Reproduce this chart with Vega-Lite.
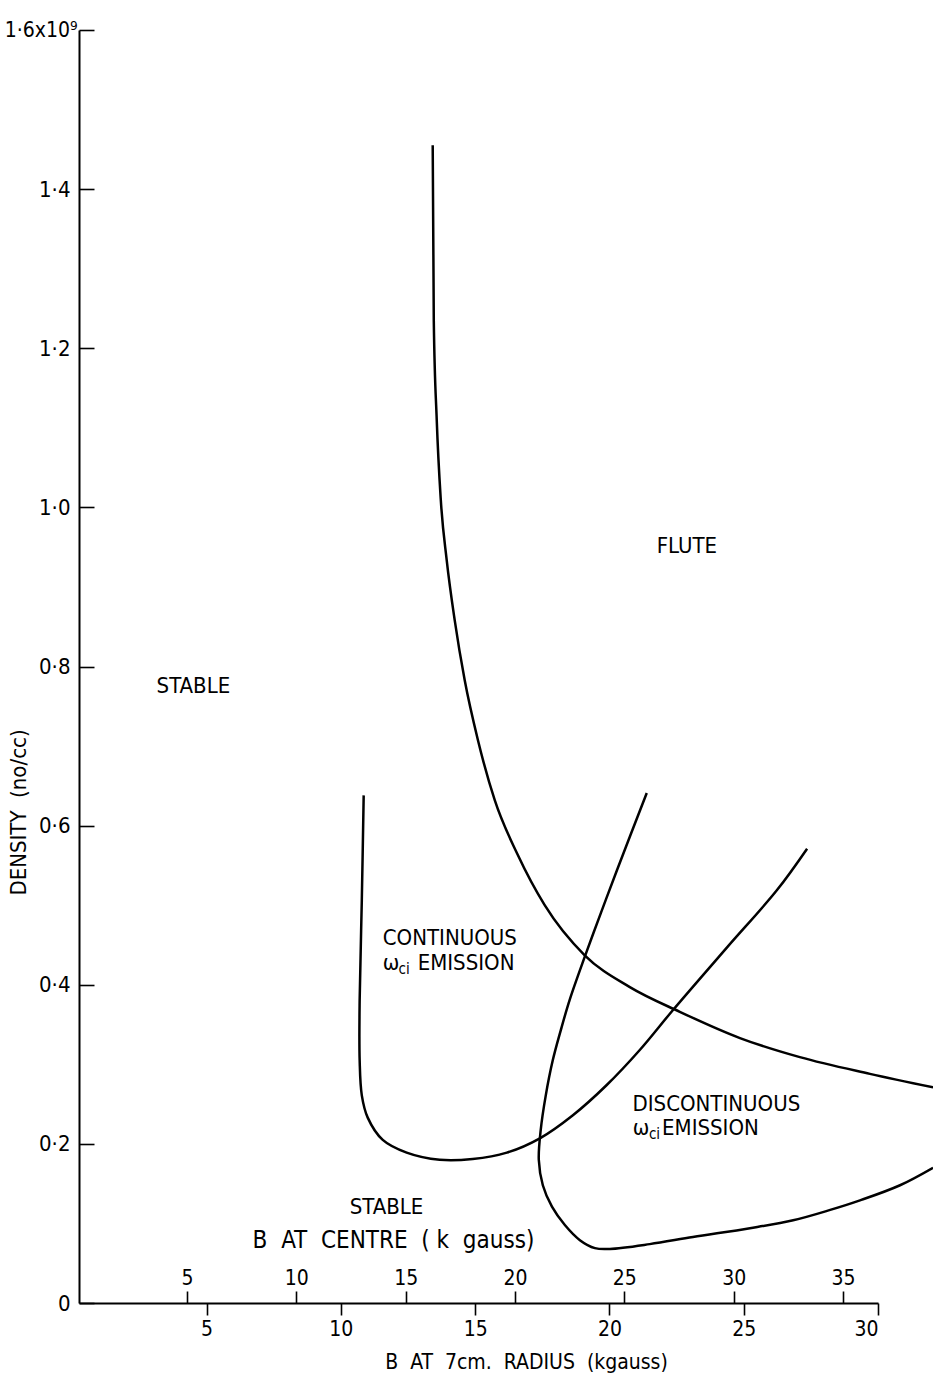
{
  "$schema": "https://vega.github.io/schema/vega-lite/v6.json",
  "width": 799,
  "height": 1273,
  "autosize": {"type": "none"},
  "padding": {"left": 79, "top": 30, "right": 55, "bottom": 79},
  "background": "white",
  "config": {
    "view": {"stroke": null},
    "font": "'DejaVu Sans Condensed', 'DejaVu Sans', sans-serif",
    "axis": {"grid": false, "domainColor": "black", "tickColor": "black", "labelColor": "black", "titleColor": "black", "titleFontWeight": "normal", "domainWidth": 2, "tickWidth": 1.6}
  },
  "datasets": {
    "flute": [
      {"i": 0, "b": 13.42, "n": 1.455},
      {"i": 1, "b": 13.46, "n": 1.235},
      {"i": 2, "b": 13.57, "n": 1.110},
      {"i": 3, "b": 13.72, "n": 1.010},
      {"i": 4, "b": 13.94, "n": 0.934},
      {"i": 5, "b": 14.24, "n": 0.858},
      {"i": 6, "b": 14.61, "n": 0.783},
      {"i": 7, "b": 15.10, "n": 0.708},
      {"i": 8, "b": 15.73, "n": 0.632},
      {"i": 9, "b": 16.59, "n": 0.563},
      {"i": 10, "b": 17.59, "n": 0.500},
      {"i": 11, "b": 19.08, "n": 0.437},
      {"i": 12, "b": 20.76, "n": 0.397},
      {"i": 13, "b": 22.62, "n": 0.366},
      {"i": 14, "b": 24.86, "n": 0.333},
      {"i": 15, "b": 27.09, "n": 0.309},
      {"i": 16, "b": 29.70, "n": 0.288},
      {"i": 17, "b": 32.05, "n": 0.271}
    ],
    "curves": [
      {"curve": "continuous", "i": 0, "b": 10.85, "n": 0.638},
      {"curve": "continuous", "i": 1, "b": 10.78, "n": 0.506},
      {"curve": "continuous", "i": 2, "b": 10.70, "n": 0.381},
      {"curve": "continuous", "i": 3, "b": 10.70, "n": 0.305},
      {"curve": "continuous", "i": 4, "b": 10.78, "n": 0.261},
      {"curve": "continuous", "i": 5, "b": 11.00, "n": 0.233},
      {"curve": "continuous", "i": 6, "b": 11.56, "n": 0.205},
      {"curve": "continuous", "i": 7, "b": 12.45, "n": 0.189},
      {"curve": "continuous", "i": 8, "b": 13.68, "n": 0.180},
      {"curve": "continuous", "i": 9, "b": 14.91, "n": 0.181},
      {"curve": "continuous", "i": 10, "b": 16.18, "n": 0.189},
      {"curve": "continuous", "i": 11, "b": 17.41, "n": 0.207},
      {"curve": "continuous", "i": 12, "b": 18.64, "n": 0.236},
      {"curve": "continuous", "i": 13, "b": 19.90, "n": 0.274},
      {"curve": "continuous", "i": 14, "b": 21.13, "n": 0.318},
      {"curve": "continuous", "i": 15, "b": 22.36, "n": 0.368},
      {"curve": "continuous", "i": 16, "b": 24.38, "n": 0.447},
      {"curve": "continuous", "i": 17, "b": 26.24, "n": 0.519},
      {"curve": "continuous", "i": 18, "b": 27.36, "n": 0.571},
      {"curve": "discontinuous", "i": 0, "b": 21.39, "n": 0.641},
      {"curve": "discontinuous", "i": 1, "b": 20.28, "n": 0.544},
      {"curve": "discontinuous", "i": 2, "b": 19.68, "n": 0.490},
      {"curve": "discontinuous", "i": 3, "b": 19.08, "n": 0.435},
      {"curve": "discontinuous", "i": 4, "b": 18.52, "n": 0.381},
      {"curve": "discontinuous", "i": 5, "b": 18.19, "n": 0.343},
      {"curve": "discontinuous", "i": 6, "b": 17.89, "n": 0.305},
      {"curve": "discontinuous", "i": 7, "b": 17.63, "n": 0.261},
      {"curve": "discontinuous", "i": 8, "b": 17.44, "n": 0.217},
      {"curve": "discontinuous", "i": 9, "b": 17.37, "n": 0.180},
      {"curve": "discontinuous", "i": 10, "b": 17.52, "n": 0.148},
      {"curve": "discontinuous", "i": 11, "b": 17.86, "n": 0.121},
      {"curve": "discontinuous", "i": 12, "b": 18.34, "n": 0.098},
      {"curve": "discontinuous", "i": 13, "b": 18.90, "n": 0.079},
      {"curve": "discontinuous", "i": 14, "b": 19.46, "n": 0.069},
      {"curve": "discontinuous", "i": 15, "b": 20.02, "n": 0.068},
      {"curve": "discontinuous", "i": 16, "b": 21.50, "n": 0.074},
      {"curve": "discontinuous", "i": 17, "b": 23.11, "n": 0.083},
      {"curve": "discontinuous", "i": 18, "b": 25.23, "n": 0.094},
      {"curve": "discontinuous", "i": 19, "b": 26.84, "n": 0.104},
      {"curve": "discontinuous", "i": 20, "b": 28.22, "n": 0.117},
      {"curve": "discontinuous", "i": 21, "b": 29.33, "n": 0.129},
      {"curve": "discontinuous", "i": 22, "b": 30.82, "n": 0.148},
      {"curve": "discontinuous", "i": 23, "b": 32.05, "n": 0.170}
    ],
    "labels": [
      {"label": "FLUTE", "b": 21.76, "n": 0.951},
      {"label": "STABLE", "b": 3.14, "n": 0.775},
      {"label": "CONTINUOUS", "b": 11.56, "n": 0.459},
      {"label": "ω", "b": 11.56, "n": 0.427},
      {"label": "EMISSION", "b": 12.86, "n": 0.427},
      {"label": "DISCONTINUOUS", "b": 20.86, "n": 0.250},
      {"label": "ω", "b": 20.87, "n": 0.220},
      {"label": "EMISSION", "b": 21.96, "n": 0.220},
      {"label": "STABLE", "b": 10.33, "n": 0.121}
    ],
    "subs": [
      {"label": "ci", "b": 12.15, "n": 0.420},
      {"label": "ci", "b": 21.47, "n": 0.213}
    ]
  },
  "layer": [
    {
      "layer": [
        {
          "data": {"name": "flute"},
          "mark": {"type": "line", "color": "black", "strokeWidth": 2.5, "interpolate": "monotone"},
          "encoding": {
            "x": {
              "field": "b", "type": "quantitative",
              "scale": {"domain": [0.25, 30], "nice": false, "zero": false},
              "axis": {
                "orient": "bottom",
                "values": [5, 10, 15, 20, 25, 30],
                "format": "d",
                "tickSize": 12,
                "labelFontSize": 21,
                "labelPadding": 3,
                "title": "B\u00a0\u00a0AT\u00a0\u00a07cm.\u00a0\u00a0RADIUS\u00a0\u00a0(kgauss)",
                "titleFontSize": 21,
                "titleX": 447,
                "titleY": 59,
                "titleBaseline": "middle"
              }
            },
            "y": {
              "field": "n", "type": "quantitative",
              "scale": {"domain": [0, 1.6], "nice": false},
              "axis": {
                "values": [0, 0.2, 0.4, 0.6, 0.8, 1.0, 1.2, 1.4, 1.6],
                "labelExpr": "datum.value == 0 ? '0' : (datum.value > 1.55 ? '1·6x10⁹' : replace(format(datum.value, '.1f'), '.', '·'))",
                "tickSize": -15,
                "labelFontSize": {"condition": {"test": "datum.value > 1.55", "value": 21}, "value": 22},
                "labelPadding": {"condition": {"test": "datum.value > 1.55", "value": 17}, "value": 24},
                "title": "DENSITY\u00a0\u00a0(no/cc)",
                "titleFontSize": 22,
                "titleAngle": -90,
                "titleX": -61,
                "titleY": 782,
                "titleBaseline": "middle"
              }
            },
            "order": {"field": "i", "type": "quantitative"}
          }
        },
        {
          "data": {"name": "curves"},
          "mark": {"type": "line", "color": "black", "strokeWidth": 2.5, "interpolate": "catmull-rom"},
          "encoding": {
            "x": {"field": "b", "type": "quantitative"},
            "y": {"field": "n", "type": "quantitative"},
            "detail": {"field": "curve"},
            "order": {"field": "i", "type": "quantitative"}
          }
        },
        {
          "data": {"name": "labels"},
          "mark": {"type": "text", "align": "left", "baseline": "middle", "fontSize": 22, "color": "black"},
          "encoding": {
            "x": {"field": "b", "type": "quantitative"},
            "y": {"field": "n", "type": "quantitative"},
            "text": {"field": "label"}
          }
        },
        {
          "data": {"name": "subs"},
          "mark": {"type": "text", "align": "left", "baseline": "middle", "fontSize": 15, "color": "black"},
          "encoding": {
            "x": {"field": "b", "type": "quantitative"},
            "y": {"field": "n", "type": "quantitative"},
            "text": {"field": "label"}
          }
        }
      ]
    },
    {
      "mark": {"type": "rule", "strokeOpacity": 0},
      "encoding": {
        "x": {
          "datum": 5, "type": "quantitative",
          "scale": {"domain": [0.06, 36.6], "nice": false, "zero": false},
          "axis": {
            "orient": "top",
            "offset": -1273,
            "domain": false,
            "values": [5, 10, 15, 20, 25, 30, 35],
            "format": "d",
            "tickSize": 12,
            "labelFontSize": 21,
            "labelPadding": 3,
            "title": "B\u00a0\u00a0AT\u00a0\u00a0CENTRE\u00a0\u00a0(\u00a0k\u00a0\u00a0gauss)",
            "titleFontSize": 24,
            "titleX": 314,
            "titleY": -63,
            "titleBaseline": "middle"
          }
        }
      }
    }
  ],
  "resolve": {"scale": {"x": "independent"}}
}
